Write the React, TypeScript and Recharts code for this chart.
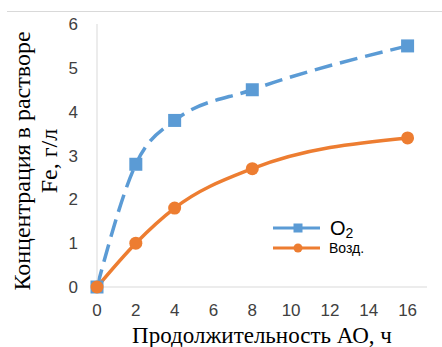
import React from 'react';
import { LineChart, Line, XAxis, YAxis, Label } from 'recharts';

// hours of oxidation and Fe concentration, g/L
const hours = [0, 2, 4, 8, 16];
const o2 = [0, 2.8, 3.8, 4.5, 5.5];
const air = [0, 1.0, 1.8, 2.7, 3.4];
const xTicks = [0, 2, 4, 6, 8, 10, 12, 14, 16];
const yTicks = [0, 1, 2, 3, 4, 5, 6];

const BLUE = '#5B9BD5';
const ORANGE = '#ED7D31';

const data = hours.map((t, i) => ({ t, o2: o2[i], air: air[i] }));

const tickStyle = { fontSize: 17, fill: '#404040', fontFamily: '"Liberation Sans", Arial, sans-serif' };
const serif = '"Liberation Serif", "Times New Roman", serif';

const SquareDot = (props: any) => {
  const { cx, cy, index } = props;
  return <rect key={`sq-${index}`} x={cx - 6.5} y={cy - 6.5} width={13} height={13} fill={BLUE} />;
};

const YTitle = () => (
  <g fontFamily={serif} fontSize={24} fill="#000">
    <text x={22} y={161} transform="rotate(-90 22 161)" textAnchor="middle" dominantBaseline="central">
      Концентрация в растворе
    </text>
    <text x={49} y={161} transform="rotate(-90 49 161)" textAnchor="middle" dominantBaseline="central">
      Fe, г/л
    </text>
  </g>
);

// legend drawn on top of the chart so it takes no room from the plot
const LegendBox = () => (
  <svg width={130} height={50} style={{ position: 'absolute', left: 270, top: 215 }}>
    <line x1={3} y1={13} x2={50} y2={13} stroke={BLUE} strokeWidth={3} />
    <rect x={23.5} y={8.5} width={9} height={9} fill={BLUE} />
    <text x={60} y={13} fontSize={20} fill="#000" dominantBaseline="central" fontFamily='"Liberation Sans", Arial, sans-serif'>
      O<tspan fontSize={14} dy={5}>2</tspan>
    </text>
    <line x1={3} y1={33} x2={50} y2={33} stroke={ORANGE} strokeWidth={3} />
    <circle cx={28} cy={33} r={4.5} fill={ORANGE} />
    <text x={59} y={33} fontSize={14} fill="#000" dominantBaseline="central" fontFamily='"Liberation Sans", Arial, sans-serif'>
      Возд.
    </text>
  </svg>
);

export default function App() {
  return (
    <div style={{ position: 'absolute', left: 0, top: 0, width: 442, height: 347, background: '#fff' }}>
      <div style={{ position: 'absolute', left: 7, top: 11, width: 435, borderTop: '1px solid #d9d9d9' }} />
      <LineChart width={442} height={347} data={data} margin={{ top: 24, right: 15, bottom: 0, left: 0 }}>
        <XAxis
          dataKey="t"
          type="number"
          domain={[0, 17]}
          ticks={xTicks}
          height={60}
          stroke="#d9d9d9"
          tickLine={false}
          tickSize={0}
          tickMargin={17}
          tick={tickStyle}
        >
          <Label
            value="Продолжительность АО, ч"
            position="insideBottom"
            offset={4}
            style={{ fontFamily: serif, fontSize: 23, fill: '#000' }}
          />
        </XAxis>
        <YAxis
          type="number"
          domain={[0, 6]}
          ticks={yTicks}
          width={97}
          stroke="#d9d9d9"
          tickLine={false}
          tickSize={0}
          tickMargin={19}
          tick={tickStyle}
        >
          <Label content={<YTitle />} />
        </YAxis>
        <Line
          type="monotone"
          dataKey="o2"
          stroke={BLUE}
          strokeWidth={3.5}
          strokeDasharray="18 8"
          dot={<SquareDot />}
          activeDot={false}
          isAnimationActive={false}
        />
        <Line
          type="monotone"
          dataKey="air"
          stroke={ORANGE}
          strokeWidth={3.5}
          dot={{ r: 6.5, fill: ORANGE, stroke: 'none' }}
          activeDot={false}
          isAnimationActive={false}
        />
      </LineChart>
      <LegendBox />
    </div>
  );
}
